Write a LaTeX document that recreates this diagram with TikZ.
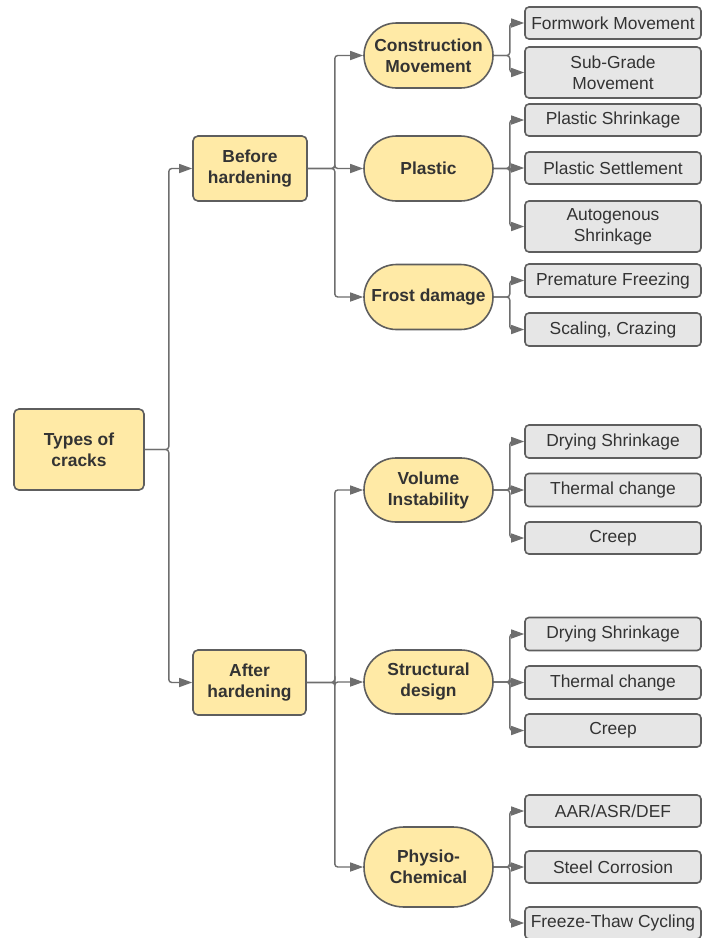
\documentclass[tikz,border=0pt]{standalone}
\usepackage{fontspec}
\setmainfont{Liberation Sans}
\usetikzlibrary{arrows.meta,shapes.misc}
\definecolor{nodeyellow}{HTML}{FFEAA6}
\definecolor{nodegray}{HTML}{E6E6E6}
\definecolor{edgegray}{HTML}{5E5E5E}
\definecolor{linegray}{HTML}{6E6E6E}
\definecolor{textdark}{HTML}{333333}
\tikzset{
  base/.style={draw=edgegray, line width=1.6pt, text=textdark, align=center,
    inner sep=0pt, font=\fontsize{17.4}{21}\selectfont},
  mainbox/.style={base, fill=nodeyellow, rounded corners=5pt,
    font=\bfseries\fontsize{17.4}{21}\selectfont},
  pill/.style={base, fill=nodeyellow, rounded rectangle,
    font=\bfseries\fontsize{17.4}{21}\selectfont, minimum width=129pt},
  leaf/.style={base, fill=nodegray, rounded corners=4pt, minimum width=176pt},
  conn/.style={draw=linegray, line width=1.4pt, rounded corners=3pt,
    -{Triangle[length=13pt,width=9pt]}},
}
\begin{document}
\begin{tikzpicture}[x=1pt,y=-1pt]
\useasboundingbox[fill=white] (0,0) rectangle (702,938);

% root and first level
\node[mainbox, minimum width=130pt, minimum height=81pt] (root) at (79,449.5) {Types of\\cracks};
\node[mainbox, minimum width=114pt, minimum height=65pt] (before) at (250,168.5) {Before\\hardening};
\node[mainbox, minimum width=113pt, minimum height=65pt] (after) at (249.5,682.5) {After\\hardening};

% second level
\node[pill, minimum height=65pt] (constr) at (428.5,55.5) {Construction\\Movement};
\node[pill, minimum height=65pt] (plastic) at (428.5,168.5) {Plastic};
\node[pill, minimum height=65pt] (frost) at (428.5,297) {Frost damage};
\node[pill, minimum height=64pt] (volume) at (428.5,490) {Volume\\Instability};
\node[pill, minimum height=64pt] (struct) at (428.5,682) {Structural\\design};
\node[pill, minimum height=80pt] (physio) at (428.5,867) {Physio-\\Chemical};

% third level
\node[leaf, minimum height=32pt] (formwork) at (613,23) {Formwork Movement};
\node[leaf, minimum height=51pt] (subgrade) at (613,72.5) {Sub-Grade\\Movement};
\node[leaf, minimum height=32pt] (pshrink) at (613,120) {Plastic Shrinkage};
\node[leaf, minimum height=32pt] (psettle) at (613,168) {Plastic Settlement};
\node[leaf, minimum height=51pt] (autog) at (613,226.5) {Autogenous\\Shrinkage};
\node[leaf, minimum height=33pt] (premature) at (613,280.5) {Premature Freezing};
\node[leaf, minimum height=33pt] (scaling) at (613,329.5) {Scaling, Crazing};
\node[leaf, minimum height=33pt] (dryA) at (613,441.5) {Drying Shrinkage};
\node[leaf, minimum height=33pt] (thermA) at (613,490) {Thermal change};
\node[leaf, minimum height=32pt] (creepA) at (613,538) {Creep};
\node[leaf, minimum height=33pt] (dryB) at (613,634) {Drying Shrinkage};
\node[leaf, minimum height=33pt] (thermB) at (613,682.5) {Thermal change};
\node[leaf, minimum height=33pt] (creepB) at (613,730.5) {Creep};
\node[leaf, minimum height=32pt] (aar) at (613,811) {AAR/ASR/DEF};
\node[leaf, minimum height=32pt] (steel) at (613,867) {Steel Corrosion};
\node[leaf, minimum height=32pt] (freeze) at (613,923) {Freeze-Thaw Cycling};

% connectors: out to a vertical bus, then across to each child
\foreach \c in {before,after}
  \draw[conn] (root.east) -- ++(24,0) |- (\c.west);
\foreach \c in {constr,plastic,frost}
  \draw[conn] (before.east) -- ++(27,0) |- (\c.west);
\foreach \c in {volume,struct,physio}
  \draw[conn] (after.east) -- ++(28,0) |- (\c.west);
\foreach \p/\c in {constr/formwork,constr/subgrade,
                   plastic/pshrink,plastic/psettle,plastic/autog,
                   frost/premature,frost/scaling,
                   volume/dryA,volume/thermA,volume/creepA,
                   struct/dryB,struct/thermB,struct/creepB,
                   physio/aar,physio/steel,physio/freeze}
  \draw[conn] (\p.east) -- ++(16,0) |- (\c.west);
\end{tikzpicture}
\end{document}
